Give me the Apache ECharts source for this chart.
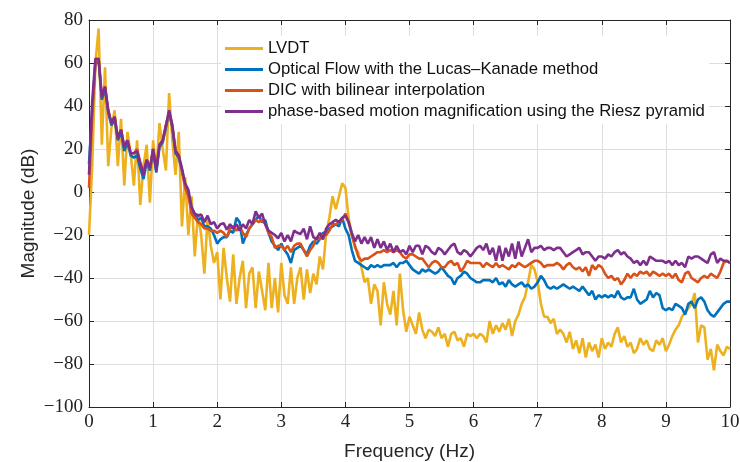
<!DOCTYPE html>
<html>
<head>
<meta charset="utf-8">
<script src="https://cdn.jsdelivr.net/npm/echarts@6/dist/echarts.min.js"></script>
<style>
html,body{margin:0;padding:0;background:#fff;}
#chart{width:740px;height:462px;}
</style>
</head>
<body>
<div id="chart"></div>
<script>
// Frequency sample grid (Hz): 0 to 10 in 0.05 Hz steps
const FREQ_STEP = 0.05;
const NUM_SAMPLES = 201;

const seriesNames = [
  'LVDT',
  'Optical Flow with the Lucas\u2013Kanade method',
  'DIC with bilinear interpolation',
  'phase-based motion magnification using the Riesz pyramid'
];

const xTicks = [0,1,2,3,4,5,6,7,8,9,10];
const yTicks = [-100,-80,-60,-40,-20,0,20,40,60,80];

// Magnitude (dB), one row per Hz (20 samples each) + final value at 10 Hz
const lvdt = [
  -20, 12, 60, 76, 22, 58, 12, 30, 38, 12, 34, 3, 28, 18, 3, 24, -6, 12, 22, -5,
  24, 10, 32, 20, 10, 46, 24, 8, 28, -16, 7, -20, -2, -30, -10, -20, -38, -12, -25, -33,
  -28, -50, -26, -40, -51, -29, -52, -40, -32, -54, -38, -35, -54, -37, -46, -55, -33, -54, -40, -56,
  -33, -48, -52, -35, -52, -40, -35, -50, -36, -47, -38, -43, -30, -36, -19, -12, -2, -8, -2, 4,
  2, -12, -20, -26, -28, -35, -42, -40, -52, -43, -46, -62, -42, -52, -57, -46, -62, -38, -55, -65,
  -58, -62, -66, -56, -64, -68, -64, -65, -67, -63, -68, -66, -72, -66, -65, -69, -68, -72, -66, -67,
  -66, -68, -66, -67, -70, -60, -66, -62, -65, -61, -64, -59, -67, -60, -57, -52, -49, -42, -34, -36,
  -42, -52, -58, -58, -61, -59, -66, -64, -66, -70, -65, -73, -69, -75, -68, -77, -70, -74, -71, -77,
  -68, -73, -70, -72, -66, -63, -70, -67, -72, -70, -75, -73, -68, -71, -69, -73, -74, -69, -71, -68,
  -74, -71, -67, -64, -62, -58, -56, -54, -52, -47, -70, -62, -63, -78, -73, -83, -71, -74, -76, -72,
  -73
];

const opticalFlow = [
  13, 38, 60, 61, 43, 48, 37, 31, 34, 24, 28, 19, 23, 17, 16, 17, 11, 6, 14, 10,
  19, 9, 21, 23, 30, 37, 30, 18, 16, 10, 3, -1, -8, -11, -13, -12, -16, -16, -17, -20,
  -24, -22, -21, -21, -18, -19, -12, -14, -24, -20, -17, -15, -13, -11, -14, -13, -19, -23, -25, -27,
  -24, -27, -29, -33, -27, -26, -25, -27, -29, -25, -23, -24, -22, -19, -19, -17, -16, -15, -16, -12,
  -17, -20, -27, -32, -33, -34, -35, -36, -34, -35, -34, -35, -34, -34, -34, -33, -35, -33, -33, -32,
  -34, -36, -37, -38, -36, -37, -36, -37, -38, -37, -35, -37, -39, -40, -43, -40, -39, -37, -38, -40,
  -41, -42, -42, -41, -41, -41, -42, -40, -43, -42, -44, -41, -43, -44, -43, -42, -44, -43, -45, -44,
  -42, -39, -41, -44, -45, -44, -45, -44, -43, -44, -45, -44, -45, -46, -44, -46, -48, -46, -50, -48,
  -49, -48, -49, -48, -49, -46, -49, -50, -49, -49, -45, -50, -52, -51, -50, -46, -49, -47, -48, -54,
  -55, -54, -55, -52, -53, -54, -57, -52, -51, -54, -50, -49, -51, -55, -57, -58, -56, -54, -52, -51,
  -51
];

const dic = [
  2, 36, 60, 62, 44, 49, 38, 32, 35, 25, 29, 21, 24, 18, 18, 20, 14, 9, 15, 11,
  20, 11, 22, 24, 31, 37, 31, 19, 17, 10, 2, -2, -10, -12, -14, -15, -17, -17, -18, -18,
  -19, -18, -19, -21, -17, -16, -18, -16, -19, -21, -17, -15, -13, -14, -13, -15, -19, -21, -26, -25,
  -25, -27, -25, -28, -25, -24, -24, -27, -30, -27, -25, -21, -22, -20, -20, -18, -15, -15, -14, -13,
  -10, -14, -20, -25, -30, -32, -31, -31, -30, -29, -28, -28, -27, -28, -27, -28, -27, -28, -30, -31,
  -29, -29, -30, -31, -31, -33, -35, -33, -32, -33, -35, -35, -33, -32, -34, -33, -37, -35, -32, -33,
  -33, -33, -33, -35, -33, -34, -35, -33, -35, -34, -35, -36, -34, -35, -33, -34, -35, -34, -33, -32,
  -32, -33, -35, -34, -34, -34, -33, -34, -36, -34, -33, -35, -36, -35, -37, -35, -39, -34, -36, -34,
  -35, -38, -40, -39, -41, -40, -43, -41, -38, -40, -38, -39, -37, -38, -37, -39, -37, -38, -39, -38,
  -39, -38, -40, -38, -41, -42, -38, -37, -40, -41, -42, -40, -39, -40, -38, -39, -40, -37, -33, -32,
  -33
];

const riesz = [
  8, 42, 62, 62, 44, 49, 38, 32, 35, 25, 29, 21, 24, 18, 18, 19, 13, 8, 15, 11,
  20, 10, 22, 24, 31, 38, 31, 19, 17, 11, 4, 1, -7, -10, -11, -10.5, -14, -11, -15, -14,
  -17, -15, -14.5, -17.5, -15, -17, -15, -18, -15, -17, -13, -15, -9, -12, -10, -15, -18, -19, -20, -21.5,
  -19, -23, -20, -23, -18, -19, -19.5, -17, -22, -16, -21, -22, -19, -22, -17, -15, -14, -13, -14, -12,
  -11, -14, -19, -23, -20, -24, -21, -24, -21, -26, -22, -26, -23, -27, -24, -28, -25, -28, -27, -29,
  -25, -28, -25, -25, -29, -25, -26, -28, -29, -26, -27, -29, -27, -25, -24, -28, -29, -27, -28, -30,
  -28, -26, -25, -27, -24, -29, -26, -32, -25, -32, -26, -30, -24, -31, -23, -30, -26, -22, -28, -26,
  -26, -25, -27, -26, -26, -27, -26, -26, -28, -30, -29, -28, -27, -26, -29, -28, -28, -30, -32, -30,
  -30, -31, -29, -30, -28, -27, -29, -28, -30, -31, -33, -32, -34, -32, -34, -30, -31, -32, -32, -32,
  -33, -32, -34, -32, -34, -33, -35, -30, -31, -30, -30, -31, -32, -33, -29, -28, -33, -31, -32, -32,
  -33
];

const colors = ['#EDB120', '#0072BD', '#D95319', '#7E2F8E'];

const freq = [];
for (let i = 0; i < NUM_SAMPLES; i++) freq.push(Math.round(i * FREQ_STEP * 100) / 100);

function pairs(vals) { return vals.map((v, i) => [freq[i], v]); }

const chart = echarts.init(document.getElementById('chart'), null, {renderer: 'canvas'});

const tickFont = {fontFamily: 'Liberation Serif', fontSize: 19, color: '#222'};
const axisLineStyle = {color: '#262626', width: 1};
const minus = v => String(v).replace('-', '\u2212');

const allData = [lvdt, opticalFlow, dic, riesz];

chart.setOption({
  animation: false,
  backgroundColor: '#fff',
  color: colors,
  grid: {left: 89, right: 10, top: 20, bottom: 55, containLabel: false, outerBoundsMode: 'none'},
  legend: {
    orient: 'vertical',
    left: 221, top: 36,
    padding: [4, 4, 4, 4],
    backgroundColor: '#fff',
    itemWidth: 38, itemHeight: 3, itemGap: 4,
    icon: 'rect',
    textStyle: {fontFamily: 'Liberation Sans', fontSize: 16.7, color: '#111', lineHeight: 17},
    data: seriesNames
  },
  xAxis: [{
    type: 'value', min: xTicks[0], max: xTicks[xTicks.length - 1], interval: 1,
    name: 'Frequency (Hz)', nameLocation: 'middle', nameGap: 35, nameMoveOverlap: false,
    nameTextStyle: {fontFamily: 'Liberation Sans', fontSize: 19, color: '#262626'},
    axisLine: {show: true, onZero: false, lineStyle: axisLineStyle},
    axisTick: {show: true, inside: true, length: 5, lineStyle: axisLineStyle},
    axisLabel: Object.assign({margin: 6, formatter: minus}, tickFont),
    splitLine: {show: true, lineStyle: {color: '#dedede', width: 1}}
  }, {
    type: 'value', min: xTicks[0], max: xTicks[xTicks.length - 1], interval: 1, position: 'top',
    axisLine: {show: true, onZero: false, lineStyle: axisLineStyle},
    axisTick: {show: true, inside: true, length: 5, lineStyle: axisLineStyle},
    axisLabel: {show: false}, splitLine: {show: false}
  }],
  yAxis: [{
    type: 'value', min: yTicks[0], max: yTicks[yTicks.length - 1], interval: 20,
    name: 'Magnitude (dB)', nameLocation: 'middle', nameGap: 51, nameRotate: 90, nameMoveOverlap: false,
    nameTextStyle: {fontFamily: 'Liberation Sans', fontSize: 19, color: '#262626'},
    axisLine: {show: true, onZero: false, lineStyle: axisLineStyle},
    axisTick: {show: true, inside: true, length: 5, lineStyle: axisLineStyle},
    axisLabel: Object.assign({margin: 6, formatter: minus}, tickFont),
    splitLine: {show: true, lineStyle: {color: '#dedede', width: 1}}
  }, {
    type: 'value', min: yTicks[0], max: yTicks[yTicks.length - 1], interval: 20, position: 'right',
    axisLine: {show: true, onZero: false, lineStyle: axisLineStyle},
    axisTick: {show: true, inside: true, length: 5, lineStyle: axisLineStyle},
    axisLabel: {show: false}, splitLine: {show: false}
  }],
  series: seriesNames.map((name, k) => ({
    name: name,
    type: 'line',
    xAxisIndex: 0, yAxisIndex: 0,
    data: pairs(allData[k]),
    showSymbol: false,
    symbol: 'none',
    lineStyle: {width: 2.6, color: colors[k]},
    itemStyle: {color: colors[k]},
    emphasis: {disabled: true},
    z: 2 + k
  }))
});
</script>
</body>
</html>
